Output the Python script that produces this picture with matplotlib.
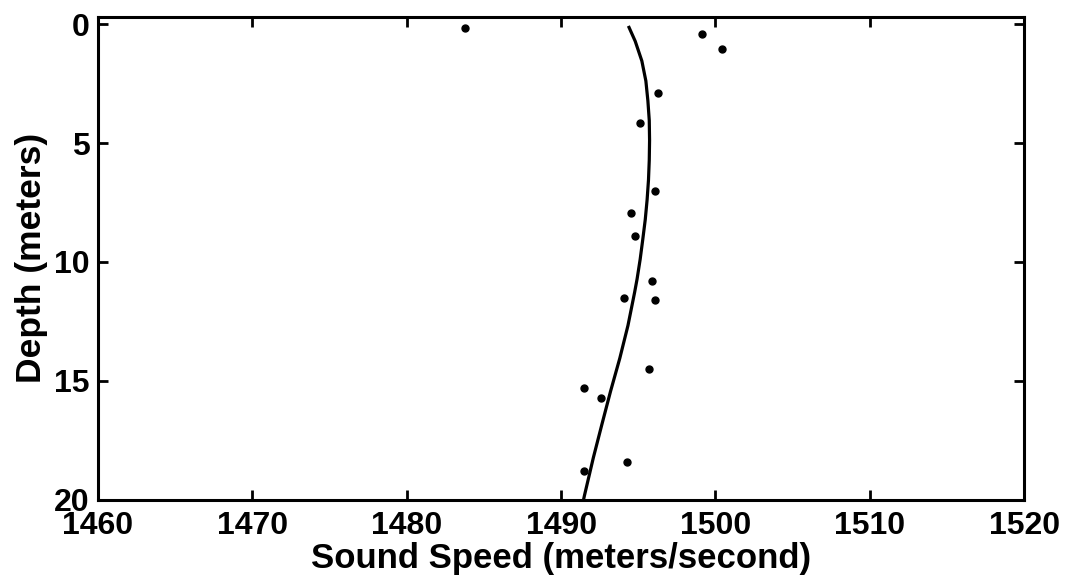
import matplotlib
matplotlib.use("Agg")
import matplotlib.pyplot as plt

# measured sound speed samples (m/s) and depths (m)
speed_obs = [1483.8, 1499.1, 1500.4, 1496.3, 1495.1, 1496.1, 1494.5, 1494.8,
             1495.9, 1494.1, 1496.1, 1495.7, 1491.5, 1492.6, 1494.3, 1491.5]
depth_obs = [0.17, 0.40, 1.04, 2.9, 4.17, 7.03, 7.94, 8.9,
             10.8, 11.5, 11.6, 14.5, 15.3, 15.7, 18.4, 18.8]

# fitted profile
speed_fit = [1494.40, 1494.80, 1495.23, 1495.49, 1495.62, 1495.71, 1495.73,
             1495.71, 1495.66, 1495.57, 1495.45, 1495.29, 1495.12, 1494.92,
             1494.76, 1494.33, 1493.80, 1493.20, 1492.64, 1492.09, 1491.51,
             1491.45]
depth_fit = [0.14, 0.72, 1.55, 2.39, 3.22, 4.05, 4.89,
             5.72, 6.55, 7.39, 8.22, 9.05, 9.89, 10.72,
             11.28, 12.67, 14.05, 15.44, 16.83, 18.22, 19.82,
             20.0]

xticks = [1460, 1470, 1480, 1490, 1500, 1510, 1520]
yticks = [0, 5, 10, 15, 20]

plt.rcParams["font.family"] = ["Liberation Sans", "DejaVu Sans"]
plt.rcParams["font.weight"] = "bold"

fig = plt.figure(figsize=(10.77, 5.84), dpi=100)
ax = fig.add_axes([0.091, 0.144, 0.860, 0.827])
ax.plot(speed_fit, depth_fit, color="black", lw=2.3)
ax.plot(speed_obs, depth_obs, "o", color="black", markersize=5, clip_on=False)

ax.set_xlim(1460, 1520)
ax.set_ylim(20, -0.3)
ax.set_xticks(xticks)
ax.set_yticks(yticks)
for s in ax.spines.values():
    s.set_linewidth(2.2)
ax.tick_params(direction="in", length=7, width=2, top=True, right=True,
               labelsize=23)
ax.tick_params(axis="x", pad=8)
ax.tick_params(axis="y", pad=6)
for lab in ax.get_xticklabels() + ax.get_yticklabels():
    lab.set_fontweight("bold")
ax.set_xlabel("Sound Speed (meters/second)", fontsize=25, fontweight="bold", labelpad=1)
ax.set_ylabel("Depth (meters)", fontsize=25.5, fontweight="bold", labelpad=4)

fig.savefig("out.png", dpi=100)
plt.close(fig)
